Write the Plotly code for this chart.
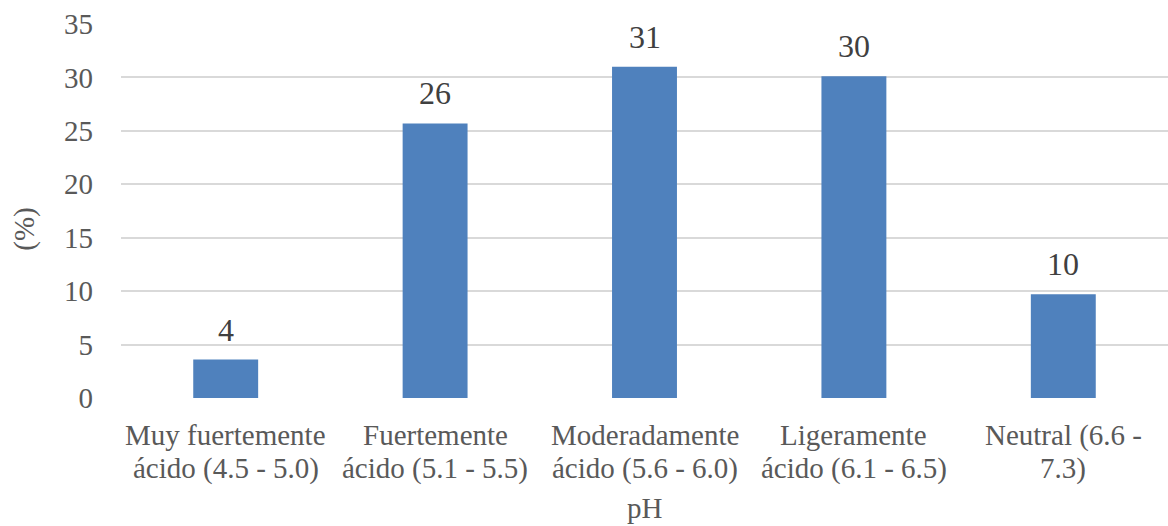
import plotly.graph_objects as go

# Soil pH classes and share of samples (%)
categorias = [
    "Muy fuertemente<br>ácido (4.5 - 5.0)",
    "Fuertemente<br>ácido (5.1 - 5.5)",
    "Moderadamente<br>ácido (5.6 - 6.0)",
    "Ligeramente<br>ácido (6.1 - 6.5)",
    "Neutral (6.6 -<br>7.3)",
]
porcentajes = [3.6, 25.7, 31.0, 30.1, 9.7]
y_ticks = [0, 5, 10, 15, 20, 25, 30, 35]

FONT = "Liberation Serif"
GREY = "#595959"
DARK = "#404040"

fig = go.Figure(
    go.Bar(
        x=list(range(len(categorias))),
        y=porcentajes,
        marker=dict(color="#4F81BD", line=dict(width=0)),
        hoverinfo="skip",
    )
)

annotations = []

# value labels above each bar
for i, v in enumerate(porcentajes):
    annotations.append(dict(
        x=i, y=v, xref="x", yref="y", text=f"{v:.0f}", showarrow=False,
        yanchor="bottom", xanchor="center", yshift=10,
        font=dict(family=FONT, size=32, color=DARK),
    ))

# two-line category labels under the axis
for i, lab in enumerate(categorias):
    lines = lab.split("<br>")
    for k, line in enumerate(lines):
        annotations.append(dict(
            x=i, y=0, xref="x", yref="paper", text=line, showarrow=False,
            yanchor="top", xanchor="center", yshift=-19 - 33 * k,
            font=dict(family=FONT, size=29, color=GREY),
        ))

# axis titles
annotations.append(dict(
    x=0.5, y=0, xref="paper", yref="paper", text="pH", showarrow=False,
    yanchor="middle", xanchor="center", yshift=-110,
    font=dict(family=FONT, size=29, color=GREY),
))
annotations.append(dict(
    x=0, y=0.45, xref="paper", yref="paper", text="(%)", showarrow=False,
    textangle=-90, yanchor="middle", xanchor="center", xshift=-96,
    font=dict(family=FONT, size=29, color=GREY),
))

fig.update_layout(
    width=1168,
    height=526,
    margin=dict(l=121, r=0, t=24, b=128),
    paper_bgcolor="white",
    plot_bgcolor="white",
    bargap=0.69,
    showlegend=False,
    font=dict(family=FONT),
    annotations=annotations,
    xaxis=dict(
        range=[-0.5, len(categorias) - 0.5],
        showticklabels=False,
        showgrid=False,
        zeroline=False,
        showline=False,
        ticks="",
    ),
    yaxis=dict(
        range=[0, 35],
        tickvals=y_ticks,
        ticktext=[str(t) for t in y_ticks],
        showgrid=True,
        gridcolor="#D9D9D9",
        gridwidth=1.5,
        zeroline=False,
        showline=False,
        ticks="",
        ticklabelstandoff=27,
        tickfont=dict(family=FONT, size=29, color=GREY),
    ),
)

fig.write_html("out.html")
